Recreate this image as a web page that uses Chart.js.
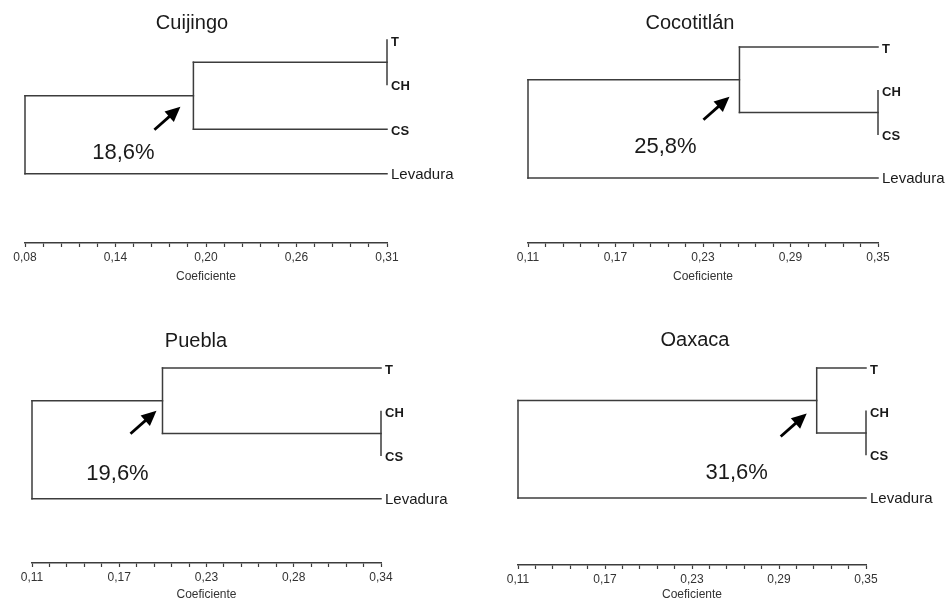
<!DOCTYPE html>
<html>
<head>
<meta charset="utf-8">
<script src="https://cdn.jsdelivr.net/npm/chart.js"></script>
<style>
  html, body { margin: 0; padding: 0; background: #fff; overflow: hidden; }
  canvas { position: absolute; }
</style>
</head>
<body>
<canvas id="c0" width="473" height="300" style="left:0;top:0"></canvas>
<canvas id="c1" width="473" height="300" style="left:473px;top:0"></canvas>
<canvas id="c2" width="473" height="310" style="left:0;top:300px"></canvas>
<canvas id="c3" width="473" height="310" style="left:473px;top:300px"></canvas>
<script>
const titles = ['Cuijingo', 'Cocotitlán', 'Puebla', 'Oaxaca'];
const leaves = ['T', 'CH', 'CS', 'Levadura'];

// coefficient at each junction: first pair, pair + third leaf, root (with Levadura)
const cuijingoJoins = [0.313, 0.190, 0.083];
const cocotitlanJoins = [0.35, 0.255, 0.11];
const pueblaJoins = [0.34, 0.196, 0.11];
const oaxacaJoins = [0.35, 0.316, 0.11];
const joins = [cuijingoJoins, cocotitlanJoins, pueblaJoins, oaxacaJoins];

// which two leaves are joined first
const firstPairs = [[0, 1], [1, 2], [1, 2], [1, 2]];
const percentages = ['18,6%', '25,8%', '19,6%', '31,6%'];

const axisMin = [0.083, 0.11, 0.11, 0.11];
const axisMax = [0.313, 0.35, 0.34, 0.35];
const cuijingoTicks = ['0,08', '0,14', '0,20', '0,26', '0,31'];
const cocotitlanTicks = ['0,11', '0,17', '0,23', '0,29', '0,35'];
const pueblaTicks = ['0,11', '0,17', '0,23', '0,28', '0,34'];
const oaxacaTicks = ['0,11', '0,17', '0,23', '0,29', '0,35'];
const tickLabels = [cuijingoTicks, cocotitlanTicks, pueblaTicks, oaxacaTicks];

// page layout (pixels) for each panel
const layouts = [
    { left: 25, right: 86, top: 40, axisY: 243, axisH: 41, yMax: 5.55, titleX: 192, titleY: 23, pct: [-70, 57], tip: [-13, 11] },
    { left: 55, right: 68, top: 47, axisY: 243, axisH: 41, yMax: 5.49, titleX: 217, titleY: 23, pct: [-74, 67], tip: [-10, 17] },
    { left: 32, right: 92, top: 68, axisY: 263, axisH: 39, yMax: 5.47, titleX: 196, titleY: 41, pct: [-45, 73], tip: [-6, 10] },
    { left: 45, right: 80, top: 68, axisY: 265, axisH: 37, yMax: 5.55, titleX: 222, titleY: 40, pct: [-80, 72], tip: [-10, 13] }
];

const lineColor = '#3c3c3c';
const textColor = '#1a1a1a';
const sans = "'Liberation Sans', Arial, sans-serif";

const buildTree = (j, pair, max) => {
    const [a, b] = pair;
    const c = [0, 1, 2].find(i => i !== a && i !== b);
    const rowA = a + 1, rowB = b + 1, rowC = c + 1, rowL = 4;
    const pairY = (rowA + rowB) / 2;
    const nodeY = (pairY + rowC) / 2;
    const segs = [
        [[j[0], rowA], [j[0], rowB]],
        [[j[1], pairY], [j[0], pairY]],
        [[j[1], pairY], [j[1], rowC]],
        [[j[1], rowC], [max, rowC]],
        [[j[2], nodeY], [j[1], nodeY]],
        [[j[2], nodeY], [j[2], rowL]],
        [[j[2], rowL], [max, rowL]]
    ];
    if (j[0] < max) {
        segs.push([[j[0], rowA], [max, rowA]]);
        segs.push([[j[0], rowB], [max, rowB]]);
    }
    return { segs, node: { x: j[1], y: nodeY } };
};

const drawArrow = (ctx, sx, sy, tx, ty) => {
    const dx = tx - sx, dy = ty - sy;
    const len = Math.hypot(dx, dy);
    const ux = dx / len, uy = dy / len;
    const bx = tx - ux * 15, by = ty - uy * 15;
    ctx.save();
    ctx.strokeStyle = '#000';
    ctx.fillStyle = '#000';
    ctx.lineWidth = 2.8;
    ctx.beginPath();
    ctx.moveTo(sx, sy);
    ctx.lineTo(bx + ux * 2, by + uy * 2);
    ctx.stroke();
    ctx.beginPath();
    ctx.moveTo(tx, ty);
    ctx.lineTo(bx - uy * 7, by + ux * 7);
    ctx.lineTo(bx + uy * 7, by - ux * 7);
    ctx.closePath();
    ctx.fill();
    ctx.restore();
};

const dendroText = {
    id: 'dendroText',
    afterDatasetsDraw(chart, args, opts) {
        const { ctx, scales: { x, y } } = chart;
        const lay = opts.layout;
        ctx.save();
        // title
        ctx.fillStyle = textColor;
        ctx.textAlign = 'center';
        ctx.textBaseline = 'middle';
        ctx.font = `20px ${sans}`;
        ctx.fillText(opts.title, lay.titleX, lay.titleY);

        // leaf labels
        ctx.textAlign = 'left';
        const lx = x.getPixelForValue(opts.max) + 4;
        leaves.forEach((name, i) => {
            const py = y.getPixelForValue(i + 1);
            if (name === 'Levadura') {
                ctx.font = `15px ${sans}`;
                ctx.fillText(name, lx, py + 1);
            } else {
                ctx.font = `bold 13px ${sans}`;
                ctx.fillText(name, lx, py + 2);
            }
        });

        // similarity note and arrow at the inner junction
        const nx = x.getPixelForValue(opts.node.x);
        const ny = y.getPixelForValue(opts.node.y);
        ctx.textAlign = 'center';
        ctx.font = `22px ${sans}`;
        ctx.fillText(opts.percent, nx + lay.pct[0], ny + lay.pct[1]);
        const tx = nx + lay.tip[0], ty = ny + lay.tip[1];
        drawArrow(ctx, tx - 26, ty + 23, tx, ty);
        ctx.restore();
    }
};

const createDendrogram = (i) => {
    const lay = layouts[i];
    const canvas = document.getElementById('c' + i);
    const tree = buildTree(joins[i], firstPairs[i], axisMax[i]);
    const datasets = tree.segs.map(s => ({
        data: s.map(([x, y]) => ({ x, y })),
        showLine: true,
        borderColor: lineColor,
        borderWidth: 1.5,
        borderCapStyle: 'square',
        pointRadius: 0,
        clip: false
    }));
    new Chart(canvas.getContext('2d'), {
        type: 'scatter',
        data: { datasets },
        plugins: [dendroText],
        options: {
            responsive: false,
            animation: false,
            devicePixelRatio: 1,
            events: [],
            layout: {
                padding: {
                    left: lay.left,
                    right: lay.right,
                    top: lay.top,
                    bottom: canvas.height - lay.axisY - lay.axisH
                }
            },
            plugins: {
                legend: { display: false },
                tooltip: { enabled: false },
                dendroText: {
                    layout: lay,
                    title: titles[i],
                    percent: percentages[i],
                    max: axisMax[i],
                    node: tree.node
                }
            },
            scales: {
                y: {
                    display: false,
                    reverse: true,
                    min: 1,
                    max: lay.yMax
                },
                x: {
                    type: 'linear',
                    position: 'bottom',
                    min: axisMin[i],
                    max: axisMax[i],
                    afterFit: (scale) => {
                        scale.height = lay.axisH;
                        scale.paddingLeft = 0;
                        scale.paddingRight = 0;
                    },
                    ticks: {
                        stepSize: (axisMax[i] - axisMin[i]) / 20,
                        autoSkip: false,
                        maxRotation: 0,
                        padding: 3,
                        color: '#333',
                        font: { family: sans, size: 12 },
                        callback: (value, index) => index % 5 === 0 ? tickLabels[i][index / 5] : ''
                    },
                    grid: {
                        drawOnChartArea: false,
                        drawTicks: true,
                        tickLength: 4,
                        tickWidth: 1.2,
                        tickColor: lineColor
                    },
                    border: { color: lineColor, width: 1.5 },
                    title: {
                        display: true,
                        text: 'Coeficiente',
                        color: '#333',
                        font: { family: sans, size: 12 },
                        padding: { top: 0, bottom: 0 }
                    }
                }
            }
        }
    });
};

[0, 1, 2, 3].forEach(createDendrogram);
</script>
</body>
</html>
